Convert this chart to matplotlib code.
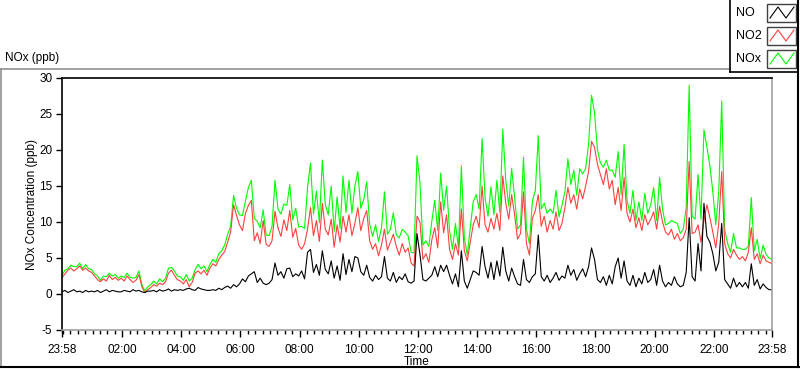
import pandas as pd
import matplotlib
matplotlib.use('Agg')
import matplotlib.pyplot as plt
from matplotlib.lines import Line2D
from matplotlib.patches import Rectangle

outputFile = 'out.png'

# readings every 6 minutes from 23:58, one row per hour (ppb)
no2 = [
    2.3, 2.8, 3.3, 3.6, 3.2, 3.5, 3.9, 3.3, 3.6, 3.2,
    3.0, 2.5, 2.0, 1.7, 2.1, 1.8, 2.6, 2.0, 2.3, 1.9,
    2.2, 1.8, 2.5, 2.0, 1.6, 1.9, 2.7, 1.0, 0.2, 0.6,
    0.9, 1.3, 1.1, 1.5, 1.3, 1.7, 2.9, 3.3, 2.6, 2.0,
    1.8, 1.4, 2.0, 1.0, 1.6, 2.9, 3.2, 2.8, 3.3, 2.6,
    3.6, 4.2, 3.9, 4.8, 5.4, 5.9, 7.2, 8.6, 12.4, 10.9,
    9.6, 8.8, 11.2, 12.3, 13.0, 7.4, 8.5, 7.0, 10.2, 6.9,
    6.6, 7.4, 11.5, 9.2, 8.0, 10.3, 8.8, 11.6, 7.9, 9.1,
    6.8, 6.2, 7.0, 9.0, 12.0, 8.1, 10.2, 7.3, 12.6, 9.0,
    8.2, 10.4, 6.5, 9.6, 7.2, 10.8, 8.6, 11.0, 8.1, 9.8,
    12.0, 8.8, 10.5, 11.6, 7.4, 6.2, 7.0, 5.3, 6.8, 9.0,
    6.1, 7.2, 8.3, 6.6, 5.4, 7.0, 5.8, 6.4, 4.3, 3.9,
    10.8, 10.0, 4.8, 5.6, 4.4, 7.5, 9.2, 6.4, 12.8, 8.5,
    11.0, 6.2, 4.8, 7.0, 5.4, 11.8, 6.0, 4.6, 7.2, 9.6,
    10.8, 9.2, 15.0, 9.6, 8.6, 10.5, 9.0, 11.2, 8.8, 16.4,
    12.6, 10.4, 13.8, 11.0, 7.6, 8.4, 14.2, 7.0, 5.4, 10.5,
    11.6, 13.8, 9.4, 10.8, 8.6, 10.2, 9.0, 11.4, 8.8, 9.8,
    12.0, 14.8, 12.6, 13.8, 11.8, 14.6, 13.2, 15.0, 17.0, 21.2,
    20.4, 18.0, 16.6, 15.2, 17.4, 14.6, 15.8, 12.4, 14.8, 11.6,
    16.2, 11.2, 10.0, 11.8, 9.2, 10.6, 8.8, 11.0, 9.6, 10.4,
    11.4, 9.0, 12.2, 10.0, 8.6, 8.2, 9.0, 7.6, 8.4, 7.4,
    7.8, 9.0, 18.4, 8.4, 8.6, 9.6, 7.2, 10.2, 12.4, 10.6,
    8.6, 6.4, 9.8, 17.0, 7.0, 5.6, 5.0, 6.2, 5.4, 4.8,
    5.2, 4.6, 5.8, 9.2, 4.8, 5.6, 4.2, 5.4, 4.6, 4.4,
    4.2,
]
no = [
    0.3, 0.5, 0.2, 0.4, 0.6, 0.3, 0.4, 0.2, 0.5, 0.3,
    0.4, 0.3, 0.5, 0.2, 0.4, 0.6, 0.3, 0.5, 0.4, 0.3,
    0.3, 0.5, 0.4, 0.3, 0.6, 0.4, 0.5, 0.3, 0.2, 0.4,
    0.4, 0.5, 0.3, 0.6, 0.4, 0.5, 0.7, 0.4, 0.6, 0.5,
    0.6, 0.5, 0.7, 0.8, 0.6, 0.5, 0.9, 0.7, 0.6, 0.5,
    0.5, 0.6, 0.5, 0.8, 0.6, 0.9, 1.1, 0.8, 1.3, 1.0,
    1.4, 2.1, 1.7, 2.5, 2.8, 3.1, 1.6, 2.2, 1.5, 1.3,
    1.5, 2.0, 4.3, 2.6, 3.1, 2.2, 3.5, 3.6, 2.4, 2.8,
    2.5, 3.2, 2.1, 5.8, 6.2, 3.0, 4.1, 2.6, 6.0, 3.4,
    2.8, 4.6, 2.2, 3.9, 1.9, 5.6, 2.7, 4.8, 3.1, 5.2,
    5.0, 3.1, 2.6, 4.0, 2.3, 1.8, 2.6, 2.0, 2.4, 5.2,
    2.2, 1.8, 3.0, 1.6, 2.4, 2.0, 2.8, 1.7, 1.5, 1.8,
    8.4, 5.5, 2.0, 1.8, 2.2, 2.6, 3.8, 2.4, 4.0, 3.1,
    4.0, 2.6, 1.4, 2.8, 1.0, 6.0, 1.8, 0.8, 2.0, 3.2,
    3.0, 2.6, 6.6, 3.8, 2.2, 4.4, 2.0, 4.6, 2.5, 6.5,
    3.2, 1.8, 3.6, 2.4, 1.4, 1.2, 4.8, 2.0, 1.6, 2.4,
    2.8, 8.2, 2.4, 1.8, 2.6, 1.6, 2.2, 3.0, 1.9, 2.5,
    2.2, 4.0, 2.6, 3.4, 1.9, 2.8, 3.5, 2.4, 3.8, 6.4,
    4.8, 2.0, 1.6, 2.4, 1.2, 2.6, 1.4, 3.8, 5.0, 2.2,
    4.6, 1.8, 1.2, 2.6, 1.0, 2.2, 1.4, 3.0, 1.6, 2.0,
    3.4, 1.2, 4.0, 1.8, 1.0, 1.6, 1.2, 2.4, 1.4, 1.0,
    1.2, 3.0, 10.6, 2.4, 1.8, 7.0, 3.2, 12.6, 8.0, 7.2,
    5.6, 3.2, 4.4, 9.8, 2.0, 1.4, 0.8, 2.2, 1.0, 1.6,
    1.0, 1.6, 0.8, 4.2, 1.2, 2.0, 0.7, 1.4, 0.9, 0.6,
    0.6,
]
yticks = [-5, 0, 5, 10, 15, 20, 25, 30]
xtick_labels = ['23:58', '02:00', '04:00', '06:00', '08:00', '10:00', '12:00',
                '14:00', '16:00', '18:00', '20:00', '22:00', '23:58']

start = pd.Timestamp('2000-01-01 23:58')
end = start + pd.Timedelta(hours=24)
times = pd.date_range(start, periods=len(no), freq='6min')
data = pd.DataFrame({'time': times, 'NO': no, 'NO2': no2})
data['NOx'] = data.NO + data.NO2

plt.rcParams['font.family'] = ['Liberation Sans', 'DejaVu Sans']

W, H = 800, 369
fig = plt.figure(figsize=(W / 100, H / 100), dpi=100)
fig.patch.set_facecolor('white')

def fx(px):
    return px / W

def fy(py):
    return 1 - py / H

ax = fig.add_axes([fx(62), fy(330), fx(772) - fx(62), fy(78) - fy(330)])
ax.plot(data.time, data.NOx, color='#00ff00', lw=0.8)
ax.plot(data.time, data.NO2, color='#ff4040', lw=0.8)
ax.plot(data.time, data.NO, color='black', lw=0.8)

ax.set_ylim(-5, 30)
ax.set_yticks(yticks)
ax.set_yticklabels([str(v) for v in yticks])
ax.set_xlim(start, end)

major = [start] + [pd.Timestamp('2000-01-02') + pd.Timedelta(hours=h) for h in range(2, 24, 2)] + [end]
ax.set_xticks(major)
ax.set_xticklabels(xtick_labels)
minor = pd.date_range('2000-01-02 00:00', '2000-01-02 23:45', freq='15min')
ax.set_xticks(minor, minor=True)

ax.tick_params(axis='both', which='major', direction='out', length=4, width=1, labelsize=8.5, pad=3)
ax.tick_params(axis='x', which='major', length=5, pad=5)
ax.tick_params(axis='x', which='minor', direction='out', length=3, width=1)
ax.tick_params(axis='y', which='minor', length=0)

ax.spines['left'].set_color('black')
ax.spines['top'].set_color('black')
ax.spines['right'].set_color('#a0a0a0')
ax.spines['bottom'].set_color('#a0a0a0')
for s in ax.spines.values():
    s.set_linewidth(1.2)

ax.set_ylabel('NOx Concentration (ppb)', fontsize=8.5, labelpad=1)
ax.set_xlabel('Time', fontsize=8.5, labelpad=0)

# panel frame
fig.add_artist(Line2D([fx(0), fx(730)], [fy(69), fy(69)], color='#909090', lw=1.2))
fig.add_artist(Line2D([fx(1), fx(1)], [fy(69), fy(367)], color='#909090', lw=1.2))
fig.add_artist(Line2D([fx(1), fx(799)], [fy(367), fy(367)], color='black', lw=1.5))
fig.add_artist(Line2D([fx(798), fx(798)], [fy(0), fy(367)], color='black', lw=1.5))
fig.text(fx(5), fy(58), 'NOx (ppb)', fontsize=8.5, va='center', ha='left')

# legend
fig.add_artist(Line2D([fx(730), fx(730)], [fy(0), fy(72)], color='black', lw=1.2))
fig.add_artist(Line2D([fx(730), fx(798)], [fy(72), fy(72)], color='black', lw=1.2))
legend_items = [('NO', 'black', 13), ('NO2', '#ff4040', 36), ('NOx', '#00ff00', 59)]
for name, colour, yc in legend_items:
    fig.text(fx(736), fy(yc), name, fontsize=9, va='center', ha='left')
    fig.add_artist(Rectangle((fx(767), fy(yc + 9)), fx(29), fy(yc - 9) - fy(yc + 9),
                             facecolor='white', edgecolor='#404040', lw=1))
    fig.add_artist(Line2D([fx(770), fx(778), fx(786), fx(794)],
                          [fy(yc + 5), fy(yc - 6), fy(yc + 5), fy(yc - 6)],
                          color=colour, lw=0.8))

fig.savefig(outputFile, dpi=100)
